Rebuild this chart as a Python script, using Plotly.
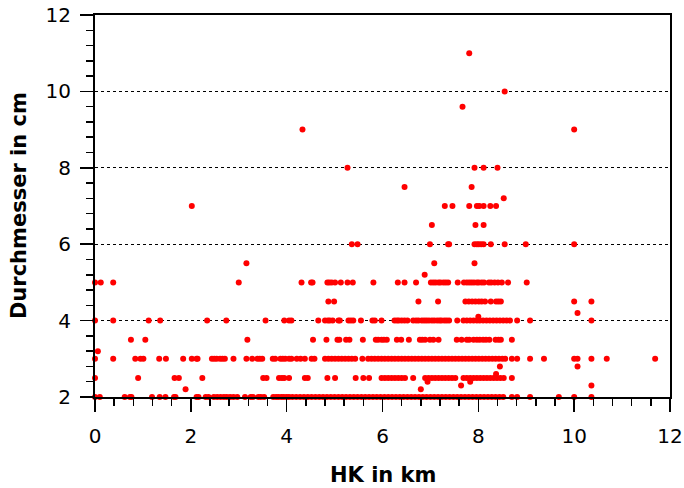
import plotly.graph_objects as go

# x values (HK in km) grouped by measured diameter (cm)
hk_d2 = [0, 0.1, 0.62, 0.73, 0.76, 1.19, 1.35, 1.47, 1.65, 1.68, 2.12, 2.16, 2.31, 2.37, 2.48, 2.55,
         2.62, 2.69, 2.75, 2.82, 2.89, 2.97, 3.13, 3.25, 3.3, 3.41, 3.46, 3.53, 3.72, 3.78, 3.83, 3.89,
         3.94, 4.0, 4.05, 4.12, 4.2, 4.28, 4.36, 4.44, 4.52, 4.6, 4.68, 4.76, 4.84, 4.92, 5.0, 5.08,
         5.16, 5.24, 5.32, 5.4, 5.48, 5.56, 5.64, 5.72, 5.8, 5.88, 5.96, 6.04, 6.12, 6.2, 6.28, 6.36,
         6.44, 6.52, 6.6, 6.68, 6.76, 6.84, 6.92, 7.0, 7.08, 7.16, 7.24, 7.32, 7.4, 7.48, 7.56, 7.64,
         7.72, 7.8, 7.88, 7.96, 8.04, 8.12, 8.2, 8.28, 8.36, 8.44, 8.52, 8.7, 8.81, 9.08, 9.68, 10.0, 10.36]
hk_d25 = [0, 0.9, 1.66, 1.75, 2.24, 3.51, 3.58, 3.84, 3.9, 3.95, 4.05, 4.38, 4.44, 4.85, 5.01, 5.44,
          5.6, 5.72, 5.98, 6.05, 6.12, 6.19, 6.26, 6.33, 6.4, 6.47, 6.64, 6.89, 6.96, 7.03, 7.1, 7.17,
          7.24, 7.31, 7.38, 7.45, 7.52, 7.69, 7.76, 7.83, 7.9, 7.97, 8.04, 8.11, 8.18, 8.25, 8.32, 8.39,
          8.46, 8.53, 8.7]
hk_d3 = [0, 0.38, 0.84, 0.95, 1.01, 1.34, 1.48, 1.84, 2.02, 2.12, 2.14, 2.44, 2.49, 2.54, 2.61, 2.66,
         2.71, 2.89, 3.16, 3.28, 3.39, 3.44, 3.49, 3.71, 3.76, 3.87, 3.92, 3.97, 4.05, 4.1, 4.21, 4.29,
         4.38, 4.52, 4.58, 4.8, 4.87, 4.94, 5.01, 5.08, 5.15, 5.22, 5.29, 5.36, 5.43, 5.58, 5.7, 5.77,
         5.84, 5.91, 5.98, 6.05, 6.12, 6.19, 6.26, 6.33, 6.4, 6.47, 6.54, 6.61, 6.68, 6.75, 6.82, 6.89,
         6.96, 7.03, 7.1, 7.17, 7.24, 7.31, 7.38, 7.45, 7.52, 7.59, 7.66, 7.73, 7.8, 7.87, 7.94, 8.01,
         8.08, 8.15, 8.22, 8.29, 8.36, 8.43, 8.5, 8.56, 8.7, 8.81, 9.08, 9.37, 10.0, 10.07, 10.36, 10.68,
         11.69]
hk_d35 = [0.75, 1.05, 3.18, 4.55, 4.83, 5.06, 5.1, 5.24, 5.31, 5.59, 5.86, 5.91, 5.98, 6.03, 6.09, 6.3,
          6.39, 6.55, 6.78, 6.83, 6.89, 6.99, 7.06, 7.17, 7.55, 7.65, 7.76, 7.81, 7.9, 7.97, 8.03, 8.1,
          8.16, 8.23, 8.36, 8.42, 8.47, 8.7]
hk_d4 = [0, 0.38, 1.12, 1.36, 2.34, 2.74, 3.56, 3.95, 4.05, 4.1, 4.66, 4.8, 4.86, 4.9, 4.96, 5.08, 5.11,
         5.29, 5.34, 5.39, 5.55, 5.79, 5.84, 5.98, 6.25, 6.3, 6.34, 6.4, 6.46, 6.52, 6.64, 6.7, 6.75,
         6.82, 6.87, 6.92, 6.97, 7.03, 7.08, 7.14, 7.19, 7.23, 7.29, 7.34, 7.39, 7.56, 7.69, 7.76, 7.83,
         7.9, 7.97, 8.03, 8.1, 8.17, 8.24, 8.31, 8.38, 8.45, 8.52, 8.59, 8.66, 8.81, 9.08, 10.36]
hk_d45 = [4.87, 4.99, 6.75, 7.16, 7.73, 7.8, 7.87, 7.94, 8.01, 8.07, 8.14, 8.26, 8.37, 8.42, 8.47, 10.0, 10.36]
hk_d5 = [0, 0.12, 0.38, 3.0, 4.31, 4.51, 4.54, 4.85, 4.89, 4.94, 5.01, 5.13, 5.27, 5.38, 5.81, 6.32, 6.46,
         6.7, 7.01, 7.06, 7.11, 7.17, 7.21, 7.27, 7.32, 7.37, 7.57, 7.7, 7.76, 7.81, 7.86, 7.91, 7.97,
         8.01, 8.07, 8.12, 8.22, 8.27, 8.34, 8.41, 8.49, 8.62, 9.01]
hk_d55 = [3.16, 7.08, 7.92]
hk_d6 = [5.36, 5.48, 6.99, 7.37, 7.39, 7.92, 7.97, 8.01, 8.06, 8.11, 8.26, 8.55, 8.99, 10.0]
hk_d65 = [7.03, 7.94, 8.11]
hk_d7 = [2.02, 7.3, 7.46, 7.81, 7.97, 8.02, 8.11, 8.25, 8.37]
hk_d8 = [5.27, 7.92, 8.11, 8.4]

# isolated points with other diameters
hk_other = [0.06, 1.89, 6.8, 6.94, 7.83, 7.64, 8.37, 10.36, 8.45, 10.07, 8.0, 10.07, 6.88, 8.53, 6.46,
            7.86, 4.33, 10.0, 7.67, 8.55, 7.81]
d_other = [3.2, 2.2, 2.2, 2.4, 2.4, 2.3, 2.6, 2.3, 2.8, 2.8, 4.1, 4.2, 5.2, 7.2, 7.5, 7.5, 9.0, 9.0,
           9.6, 10.0, 11.0]

groups = [(hk_d2, 2), (hk_d25, 2.5), (hk_d3, 3), (hk_d35, 3.5), (hk_d4, 4), (hk_d45, 4.5),
          (hk_d5, 5), (hk_d55, 5.5), (hk_d6, 6), (hk_d65, 6.5), (hk_d7, 7), (hk_d8, 8)]

xs, ys = [], []
for xl, d in groups:
    xs += xl
    ys += [d] * len(xl)
xs += hk_other
ys += d_other

x_ticks = [0, 2, 4, 6, 8, 10, 12]
y_ticks = [2, 4, 6, 8, 10, 12]

fig = go.Figure()
fig.add_trace(go.Scatter(x=xs, y=ys, mode="markers",
                         marker=dict(color="#ff0000", size=6, line=dict(width=0)),
                         showlegend=False, cliponaxis=False))

font = "DejaVu Sans, Arial, sans-serif"
axis_common = dict(showline=True, linecolor="black", linewidth=2, mirror=True,
                   ticks="outside", ticklen=13, tickwidth=1.5, tickcolor="black",
                   zeroline=False, automargin=False, ticklabeloverflow="allow",
                   tickfont=dict(family=font, size=20, color="black"),
                   minor=dict(ticks="outside", ticklen=7, tickwidth=1.5, tickcolor="black",
                              dtick=0.4, showgrid=False))

fig.update_xaxes(range=[0, 12], tickvals=x_ticks, showgrid=False,
                 ticklabelstandoff=7, **axis_common)
fig.update_yaxes(range=[2, 12], tickvals=y_ticks, showgrid=True, gridcolor="black",
                 gridwidth=1, griddash="dot", ticklabelstandoff=5, **axis_common)

fig.add_annotation(text="<b>HK in km</b>", xref="paper", yref="paper", x=0.5, y=-0.205,
                   xanchor="center", yanchor="middle", showarrow=False,
                   font=dict(family=font, size=21, color="black"))
fig.add_annotation(text="<b>Durchmesser in cm</b>", xref="paper", yref="paper", x=-0.132, y=0.5,
                   xanchor="center", yanchor="middle", showarrow=False, textangle=-90,
                   font=dict(family=font, size=21, color="black"))

fig.update_layout(width=684, height=488, margin=dict(l=95, r=14, t=15, b=91),
                  plot_bgcolor="white", paper_bgcolor="white", hovermode=False)

# remove the browser's default body margin so the figure sits at the page origin
fig.write_html("out.html", config={"displayModeBar": False, "staticPlot": True},
               post_script="document.body.style.margin='0px';document.body.style.overflow='hidden';")
